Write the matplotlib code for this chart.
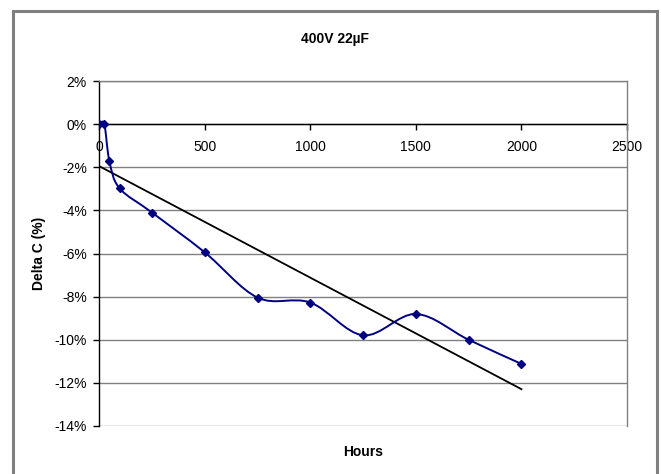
import numpy as np
import matplotlib
matplotlib.use("Agg")
from matplotlib import pyplot as plt
from matplotlib.patches import Rectangle
from matplotlib.path import Path
from matplotlib.patches import PathPatch
from matplotlib.ticker import FuncFormatter

# capacitance drift of the 400V 22uF part vs. life test hours
hours = [0, 24, 48, 96, 250, 500, 750, 1000, 1250, 1500, 1750, 2000]
delta_c = [0.0, 0.0, -1.72, -2.97, -4.1, -5.95, -8.05, -8.28, -9.8, -8.81, -10.01, -11.13]

x_ticks = [0, 500, 1000, 1500, 2000, 2500]
y_ticks = [2, 0, -2, -4, -6, -8, -10, -12, -14]

plt.rcParams['font.family'] = ['Liberation Sans', 'DejaVu Sans']


def smooth_path(x, y):
    # bezier through the points, control points from neighbour differences (like a spreadsheet smoothed line)
    p = np.column_stack([x, y]).astype(float)
    n = len(p)
    verts = [p[0]]
    codes = [Path.MOVETO]
    for i in range(n - 1):
        p_prev = p[i - 1] if i > 0 else p[i]
        p_next2 = p[i + 2] if i + 2 < n else p[i + 1]
        c1 = p[i] + (p[i + 1] - p_prev) / 6.0
        c2 = p[i + 1] - (p_next2 - p[i]) / 6.0
        verts += [c1, c2, p[i + 1]]
        codes += [Path.CURVE4] * 3
    return Path(verts, codes)


fig = plt.figure(figsize=(6.61, 4.74), dpi=100)
ax = fig.add_axes([99.3 / 661, 1 - 425.7 / 474, 527.7 / 661, 344.4 / 474])

ax.set_xlim(0, 2500)
ax.set_ylim(-14, 2)

# gridlines every 2%
for yv in y_ticks:
    ax.axhline(yv, color='#808080', lw=1.0, zorder=1)

# smoothed data line + markers
ax.add_patch(PathPatch(smooth_path(hours, delta_c), facecolor='none',
                       edgecolor='#000080', lw=1.4, zorder=3))
ax.plot(hours, delta_c, linestyle='none', marker='D', ms=4,
        color='#000080', zorder=4)

# linear trend line
k, b = np.polyfit(hours, delta_c, 1)
tx = np.array([hours[0], hours[-1]])
ax.plot(tx, k * tx + b, color='black', lw=1.3, zorder=2)

ax.spines['bottom'].set_position(('data', 0))
ax.spines['bottom'].set_color('black')
ax.spines['left'].set_color('black')
ax.spines['top'].set_color('#808080')
ax.spines['right'].set_color('#808080')
ax.spines['right'].set_zorder(5)
for s in ax.spines.values():
    s.set_linewidth(1.0)

ax.set_xticks(x_ticks)
ax.set_yticks(y_ticks)
ax.yaxis.set_major_formatter(FuncFormatter(lambda v, pos: '%d%%' % v))
ax.tick_params(axis='x', direction='out', length=4, width=1, pad=7, labelsize=10)
ax.tick_params(axis='y', direction='out', length=4, width=1, pad=5, labelsize=10)

fig.text(335 / 661, 1 - 39 / 474, u'400V 22\u00b5F', ha='center', va='center',
         fontsize=10, fontweight='bold')
fig.text(363 / 661, 1 - 452.5 / 474, 'Hours', ha='center', va='center',
         fontsize=10, fontweight='bold')
fig.text(39 / 661, 1 - 253 / 474, 'Delta C (%)', ha='center', va='center',
         rotation=90, fontsize=10, fontweight='bold')

# chart border
fig.add_artist(Rectangle((13.3 / 661, -0.05), 643.5 / 661, 1.05 - 11.3 / 474,
                         transform=fig.transFigure, fill=False,
                         edgecolor='#808080', lw=2.2))

fig.savefig('out.png', dpi=100)
